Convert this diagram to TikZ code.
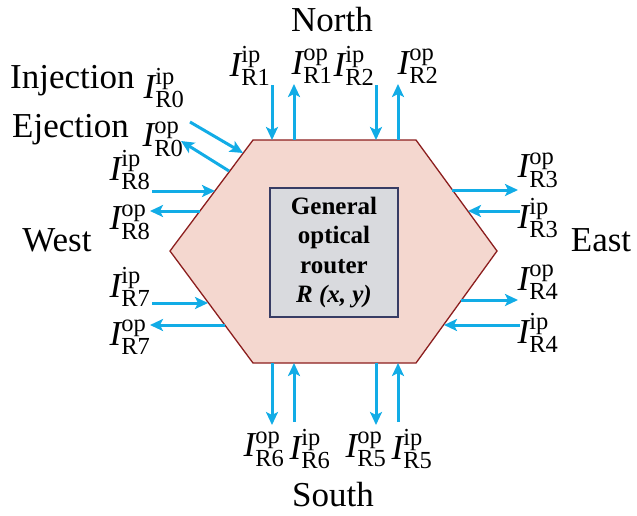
\documentclass[tikz,border=0pt]{standalone}
\usepackage{fontspec}
\setmainfont{Liberation Serif}
\usetikzlibrary{arrows.meta}
\definecolor{arrowc}{RGB}{18,172,230}
\definecolor{hexfill}{RGB}{244,215,207}
\definecolor{hexdraw}{RGB}{140,30,30}
\definecolor{boxfill}{RGB}{217,218,222}
\definecolor{boxdraw}{RGB}{55,60,100}
\newcommand{\Ilab}[2]{$\mathit{I}^{\mathrm{#1}}_{\mathrm{#2}}$}
\begin{document}
\begin{tikzpicture}[x=1pt,y=-1pt,
  sig/.style={draw=arrowc, line width=3pt, -{Stealth[length=13pt,width=12pt,inset=3pt]}},
  lab/.style={inner sep=0pt, font=\fontsize{35}{40}\selectfont},
  big/.style={inner sep=0pt, font=\fontsize{35}{40}\selectfont}]
\useasboundingbox (0,0) rectangle (637,515);
% hexagon
\coordinate (TL) at (253,140);
\coordinate (TR) at (416,140);
\coordinate (RR) at (497,251);
\coordinate (BR) at (416,363);
\coordinate (BL) at (253,363);
\coordinate (LL) at (170,251);
\draw[fill=hexfill, draw=hexdraw, line width=1.3pt] (TL) -- (TR) -- (RR) -- (BR) -- (BL) -- (LL) -- cycle;
% inner box
\node[draw=boxdraw, fill=boxfill, line width=1.3pt, minimum width=128pt, minimum height=129pt,
      align=center, inner sep=0pt,
      font=\fontsize{25}{29.5}\selectfont\bfseries] (router) at (334,252.5)
      {General\\optical\\router\\\textit{R} \textit{(x, y)}};
% arrow end coordinates
\coordinate (n1ia) at (272,85);  \coordinate (n1ib) at (272,140);
\coordinate (n1oa) at (294,140); \coordinate (n1ob) at (294,84);
\coordinate (n2ia) at (376,85);  \coordinate (n2ib) at (376,140);
\coordinate (n2oa) at (398,140); \coordinate (n2ob) at (398,84);
\coordinate (s6oa) at (272,363); \coordinate (s6ob) at (272,425);
\coordinate (s6ia) at (294,422); \coordinate (s6ib) at (294,363);
\coordinate (s5oa) at (376,363); \coordinate (s5ob) at (376,425);
\coordinate (s5ia) at (398,422); \coordinate (s5ib) at (398,363);
\coordinate (w0ia) at (190,122); \coordinate (w0ib) at (243,153);
\coordinate (w0oa) at (229,171); \coordinate (w0ob) at (181,141);
\coordinate (w8ia) at (152,191); \coordinate (w8ib) at (215,191);
\coordinate (w8oa) at (200,211); \coordinate (w8ob) at (150,211);
\coordinate (w7ia) at (152,303); \coordinate (w7ib) at (208,303);
\coordinate (w7oa) at (225,325); \coordinate (w7ob) at (150,325);
\coordinate (e3oa) at (452,190); \coordinate (e3ob) at (518,190);
\coordinate (e3ia) at (520,211); \coordinate (e3ib) at (468,211);
\coordinate (e4oa) at (461,300); \coordinate (e4ob) at (518,300);
\coordinate (e4ia) at (520,325); \coordinate (e4ib) at (444,325);
\foreach \p in {n1i,n1o,n2i,n2o,s6o,s6i,s5o,s5i,w0i,w0o,w8i,w8o,w7i,w7o,e3o,e3i,e4o,e4i}
  \draw[sig] (\p a) -- (\p b);
% labels
\node[lab] (R1ip) at (250,66) {\Ilab{ip}{R1}};
\node[lab] (R1op) at (312,66) {\Ilab{op}{R1}};
\node[lab] (R2ip) at (354,66) {\Ilab{ip}{R2}};
\node[lab] (R2op) at (418,66) {\Ilab{op}{R2}};
\node[lab] (R0ip) at (164,88) {\Ilab{ip}{R0}};
\node[lab] (R0op) at (163,139) {\Ilab{op}{R0}};
\node[lab] (R8ip) at (130,170) {\Ilab{ip}{R8}};
\node[lab] (R8op) at (130,222) {\Ilab{op}{R8}};
\node[lab] (R7ip) at (130,287) {\Ilab{ip}{R7}};
\node[lab] (R7op) at (130,337) {\Ilab{op}{R7}};
\node[lab] (R6op) at (264,449) {\Ilab{op}{R6}};
\node[lab] (R6ip) at (310,449) {\Ilab{ip}{R6}};
\node[lab] (R5op) at (366,449) {\Ilab{op}{R5}};
\node[lab] (R5ip) at (412,449) {\Ilab{ip}{R5}};
\node[lab] (R3op) at (538,170) {\Ilab{op}{R3}};
\node[lab] (R3ip) at (538,218) {\Ilab{ip}{R3}};
\node[lab] (R4op) at (538,282) {\Ilab{op}{R4}};
\node[lab] (R4ip) at (538,333) {\Ilab{ip}{R4}};
\node[big] (north) at (332,20) {North};
\node[big] (south) at (333,495) {South};
\node[big] (west) at (57,240) {West};
\node[big] (east) at (601,240) {East};
\node[big, anchor=base west] (inj) at (10,88) {Injection};
\node[big, anchor=base west] (ej) at (12,137) {Ejection};
\end{tikzpicture}
\end{document}
